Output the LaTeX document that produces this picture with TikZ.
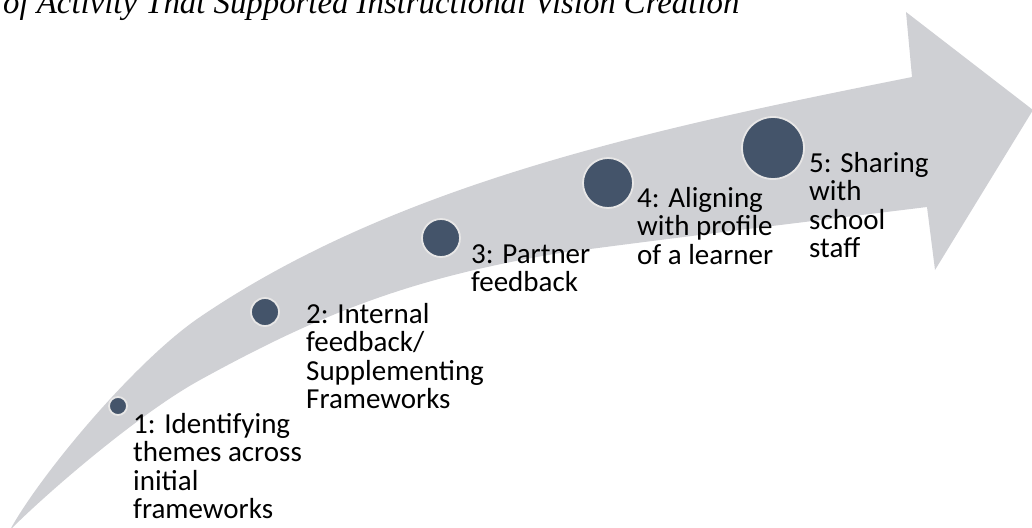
\documentclass[tikz,border=0pt]{standalone}
\usepackage{fontspec}
\setmainfont{Carlito}
\newfontfamily\captionfont{Liberation Serif}
\usetikzlibrary{positioning}
\definecolor{bandgray}{RGB}{207,208,212}
\definecolor{dotblue}{RGB}{68,84,106}
\definecolor{dotrim}{RGB}{231,230,230}
\tikzset{
	stage/.style={circle, fill=dotblue, draw=dotrim, line width=1.8pt, inner sep=0pt},
	stagetext/.style={anchor=base west, align=left, inner sep=0pt, font=\fontsize{29}{28.5}\selectfont}
}
\begin{document}
\begin{tikzpicture}[x=1pt,y=-1pt]
		\useasboundingbox (0,0) rectangle (1032,527);
		\node[anchor=base west, inner sep=0pt, font=\captionfont\itshape\fontsize{32.8}{36}\selectfont] at (3,14) (title) {of Activity That Supported Instructional Vision Creation};
		\fill[bandgray] (10,530) .. controls (40,475) and (135,361) .. (200,317) .. controls (400,181) and (662,127) .. (912,77) -- (906,12) -- (1033,110) -- (935,270) -- (927,207) .. controls (805,222) and (680,237) .. (560,253) .. controls (410,278) and (320,314) .. (200,380) .. controls (140,413) and (50,490) .. cycle;
		\node[stage, minimum size=18pt] at (118,406) (s1) {};
		\node[stage, minimum size=28pt] at (265,312) (s2) {};
		\node[stage, minimum size=38pt] at (441,238) (s3) {};
		\node[stage, minimum size=50pt] at (608,183) (s4) {};
		\node[stage, minimum size=62pt] at (773,148) (s5) {};
		\node[stagetext] at (133,518.5) (t1) {1: Identifying\\themes across\\initial\\frameworks};
		\node[stagetext] at (306,408.5) (t2) {2: Internal\\feedback/\\Supplementing\\Frameworks};
		\node[stagetext] at (471,291.5) (t3) {3: Partner\\feedback};
		\node[stagetext] at (637,264) (t4) {4: Aligning\\with profile\\of a learner};
		\node[stagetext] at (809,257.5) (t5) {5: Sharing\\with\\school\\staff};
	\end{tikzpicture}
\end{document}
